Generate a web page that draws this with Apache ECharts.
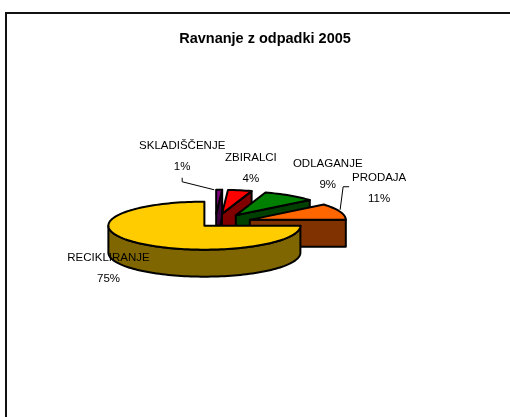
<!DOCTYPE html>
<html>
<head>
<meta charset="utf-8">
<script src="https://cdn.jsdelivr.net/npm/echarts@6/dist/echarts.min.js"></script>
<style>
  html, body { margin: 0; padding: 0; background: #fff; }
  #main { width: 510px; height: 417px; }
</style>
</head>
<body>
<div id="main"></div>
<script>
// podatki
const categories = ['SKLADIŠČENJE', 'ZBIRALCI', 'ODLAGANJE', 'PRODAJA', 'RECIKLIRANJE'];
const shares = [1, 4, 9, 11, 75];
const titleText = 'Ravnanje z odpadki 2005';

// barve (zgoraj / stranica)
const topColors = ['#800080', '#FF0000', '#008000', '#FF6600', '#FFCC00'];
const sideColors = ['#400040', '#800000', '#004000', '#803300', '#806600'];

// postavitev 3D torte
const cx = 215, cy = 223;      // sredisce
const rx = 96, ry = 24;        // elipsa
const depth = 27;              // debelina
const explode = [37, 37, 37, 37, 15];
const labelNudge = [[-37, -33], [11, -22], [38, -21.5], [39, -23], [-28, 26]];
const leader = [true, false, false, true, false];

const total = shares.reduce((s, v) => s + v, 0);
const spans = shares.map(v => v / total * 360);
const starts = [];
spans.reduce((acc, v, i) => { starts[i] = acc; return acc + v; }, 0);

const rad = d => d * Math.PI / 180;

function renderItem(params, api) {
    const i = params.dataIndex;
    const s = starts[i], e = s + spans[i], mid = (s + e) / 2;
    const ox = cx + explode[i] * Math.sin(rad(mid));
    const oy = cy - explode[i] * Math.cos(rad(mid)) * (ry / rx);
    const pt = (ang, dz) => [ox + rx * Math.sin(rad(ang)), oy - ry * Math.cos(rad(ang)) + dz];
    const arc = (from, to, dz) => {
        const n = Math.max(2, Math.ceil(Math.abs(to - from) / 2));
        const out = [];
        for (let k = 0; k <= n; k++) out.push(pt(from + (to - from) * k / n, dz));
        return out;
    };
    const line = { stroke: '#000', lineWidth: 2, lineJoin: 'round' };
    const children = [];
    let z = i * 10;
    // radialni stranici, ce gledata proti nam
    if (Math.sin(rad(e)) > 1e-6) {
        children.push({ type: 'polygon', z2: z++, shape: { points: [[ox, oy], pt(e, 0), pt(e, depth), [ox, oy + depth]] },
            style: Object.assign({ fill: sideColors[i] }, line) });
    }
    if (Math.sin(rad(s)) < -1e-6) {
        children.push({ type: 'polygon', z2: z++, shape: { points: [[ox, oy], pt(s, 0), pt(s, depth), [ox, oy + depth]] },
            style: Object.assign({ fill: sideColors[i] }, line) });
    }
    // sprednji rob
    const lo = Math.max(s, 90), hi = Math.min(e, 270);
    if (hi > lo) {
        children.push({ type: 'polygon', z2: z++, shape: { points: arc(lo, hi, 0).concat(arc(hi, lo, depth)) },
            style: Object.assign({ fill: sideColors[i] }, line) });
    }
    // zgornja ploskev
    children.push({ type: 'polygon', z2: z++, shape: { points: [[ox, oy]].concat(arc(s, e, 0)) },
        style: Object.assign({ fill: topColors[i] }, line) });

    // oznaka
    const rim = pt(mid, 0);
    const lx = rim[0] + labelNudge[i][0], ly = rim[1] + labelNudge[i][1];
    const pct = Math.round(shares[i] / total * 100) + '%';
    children.push({
        type: 'text', z2: 200,
        style: {
            text: categories[i] + '\n' + pct, x: lx, y: ly,
            align: 'center', verticalAlign: 'middle', lineHeight: 21,
            font: '11.5px "Liberation Sans", Arial, sans-serif', fill: '#000'
        }
    });
    if (leader[i]) {
        let pts;
        if (i === 3) pts = [[rim[0], rim[1] - 2], [lx - 36, ly - 2], [lx - 30, ly - 2]];
        else pts = [[rim[0] - 5, rim[1]], [lx, ly + 25], [lx, ly + 21]];
        children.push({ type: 'polyline', z2: 199, shape: { points: pts },
            style: { stroke: '#000', lineWidth: 1, fill: null } });
    }
    return { type: 'group', children: children };
}

const chart = echarts.init(document.getElementById('main'));
chart.setOption({
    animation: false,
    title: {
        text: titleText,
        left: 260,
        textAlign: 'center',
        top: 26,
        textStyle: { fontFamily: '"Liberation Sans", Arial, sans-serif', fontSize: 14.5, fontWeight: 'bold', color: '#000' }
    },
    graphic: [{
        type: 'rect',
        shape: { x: 6, y: 13, width: 530, height: 430 },
        style: { fill: null, stroke: '#111', lineWidth: 2 },
        silent: true
    }],
    series: [{
        type: 'custom',
        coordinateSystem: 'none',
        silent: true,
        renderItem: renderItem,
        data: shares.map((v, i) => ({ name: categories[i], value: v }))
    }]
});
</script>
</body>
</html>
